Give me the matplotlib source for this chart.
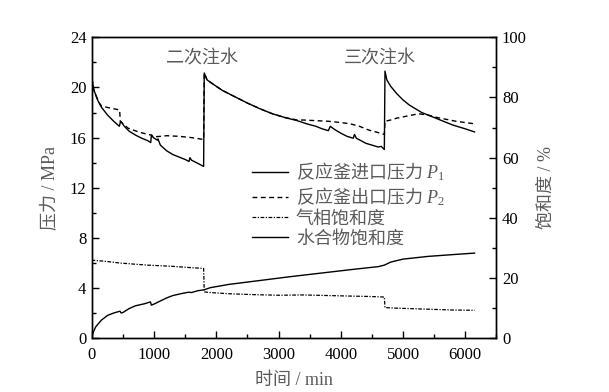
import matplotlib
matplotlib.use("Agg")
import matplotlib.pyplot as plt
from matplotlib.ticker import MultipleLocator

plt.rcParams['font.family'] = ['Liberation Serif', 'Noto Sans CJK SC']
plt.rcParams['mathtext.fontset'] = 'custom'
plt.rcParams['mathtext.rm'] = 'Liberation Serif'
plt.rcParams['mathtext.it'] = 'Liberation Serif:italic'

# ---- data ----
t_p1 = [0, 30, 100, 155, 250, 350, 440, 460, 480, 520, 600, 700, 800, 900, 945, 955, 1000,
        1050, 1060, 1100, 1200, 1300, 1400, 1500, 1560, 1575, 1600, 1700, 1795,
        1805, 1850, 1950, 2100, 2300, 2500, 2700, 2900, 3100, 3300, 3450, 3600, 3700, 3800,
        3830, 3900, 4000, 4100, 4200, 4220, 4250, 4400, 4500, 4600, 4650, 4700,
        4710, 4740, 4800, 4900, 5000, 5100, 5200, 5300, 5400, 5500, 5600, 5700, 5800,
        5900, 6000, 6150]
p1 = [20.7, 19.8, 18.9, 18.4, 17.8, 17.3, 16.9, 17.3, 17.2, 16.9, 16.5, 16.2, 15.95, 15.75, 15.6, 16.2, 15.95,
      15.8, 15.9, 15.4, 14.95, 14.65, 14.45, 14.25, 14.1, 14.4, 14.2, 13.95, 13.7,
      21.15, 20.6, 20.25, 19.75, 19.25, 18.75, 18.3, 17.9, 17.6, 17.35, 17.1, 16.9, 16.7, 16.55,
      16.9, 16.65, 16.35, 16.1, 15.95, 16.25, 15.95, 15.55, 15.4, 15.25, 15.3, 15.05,
      21.3, 20.6, 20.1, 19.5, 19.0, 18.6, 18.3, 18.0, 17.8, 17.6, 17.4, 17.2, 17.0,
      16.85, 16.7, 16.45]

t_p2 = [0, 30, 100, 155, 300, 445, 455, 500, 580, 750, 900, 960, 975, 1100, 1200, 1400, 1600, 1795,
        1805, 1850, 1950, 2100, 2300, 2500, 2700, 2900, 3100, 3300, 3400, 3600, 3800, 4000, 4150,
        4300, 4450, 4600, 4700, 4710, 4800, 4900, 5100, 5250, 5400, 5550, 5700, 5850, 6000, 6150]
p2 = [20.7, 19.8, 18.9, 18.5, 18.35, 18.2, 17.3, 17.1, 16.75, 16.45, 16.25, 16.2, 16.05, 16.1, 16.15, 16.1, 16.0, 15.85,
      21.15, 20.6, 20.25, 19.75, 19.25, 18.75, 18.3, 17.9, 17.6, 17.4, 17.4, 17.35, 17.3, 17.2, 17.1,
      16.9, 16.6, 16.4, 16.25, 17.3, 17.4, 17.55, 17.75, 17.9, 17.8, 17.6, 17.45, 17.3, 17.2, 17.1]

t_gas = [0, 20, 200, 450, 700, 900, 1000, 1300, 1500, 1795, 1805, 1900, 2200, 2600, 3000,
         3400, 3800, 4200, 4450, 4700, 4710, 4900, 5200, 5500, 5800, 6150]
s_gas = [26.3, 25.9, 25.6, 25.0, 24.6, 24.3, 24.2, 23.9, 23.6, 23.2, 15.4, 15.2, 14.8, 14.5, 14.3,
         14.4, 14.2, 14.0, 13.9, 13.7, 10.2, 10.0, 9.8, 9.6, 9.4, 9.3]

t_hyd = [0, 20, 60, 150, 250, 350, 450, 470, 500, 600, 700, 850, 940, 955, 1000, 1100, 1200, 1300,
         1450, 1550, 1600, 1700, 1800, 1900, 2200, 2700, 3200, 3700, 4200, 4600, 4700, 4800, 5000,
         5400, 5800, 6150]
s_hyd = [0.5, 2.0, 3.8, 6.0, 7.6, 8.4, 9.0, 8.4, 8.6, 9.9, 10.8, 11.5, 12.1, 11.0, 11.4, 12.4, 13.4, 14.2,
         14.9, 15.3, 15.2, 15.8, 16.1, 16.8, 17.9, 19.2, 20.5, 21.7, 22.9, 23.8, 24.3, 25.3, 26.3,
         27.2, 27.8, 28.3]

labels = ['反应釜进口压力 $P_1$', '反应釜出口压力 $P_2$', '气相饱和度', '水合物饱和度']
annots = ['二次注水', '三次注水']
annot_t = [1766, 4623]

GRAY = '#5a5a5a'

fig = plt.figure(figsize=(6.09, 3.92), dpi=100)
ax = fig.add_axes([0.151, 0.137, 0.664, 0.768])
ax2 = ax.twinx()

l2, = ax.plot(t_p2, p2, color='black', lw=1.0, dashes=(3.5, 2.5))
l1, = ax.plot(t_p1, p1, color='black', lw=1.0)
l3, = ax2.plot(t_gas, s_gas, color='black', lw=0.9, dashes=(3, 1.2, 1, 1.2))
l4, = ax2.plot(t_hyd, s_hyd, color='black', lw=1.0)

ax.set_xlim(0, 6500)
ax.set_ylim(0, 24)
ax2.set_ylim(0, 100)
ax.xaxis.set_major_locator(MultipleLocator(1000))
ax.xaxis.set_minor_locator(MultipleLocator(500))
ax.yaxis.set_major_locator(MultipleLocator(4))
ax.yaxis.set_minor_locator(MultipleLocator(2))
ax2.yaxis.set_major_locator(MultipleLocator(20))
ax2.yaxis.set_minor_locator(MultipleLocator(10))

for a in (ax, ax2):
    a.tick_params(which='both', direction='in', labelsize=12, colors='black')
    a.tick_params(which='major', length=5, width=1)
    a.tick_params(which='minor', length=3, width=1)
    for s in a.spines.values():
        s.set_linewidth(1.0)
ax.tick_params(axis='x', pad=6)
ax.tick_params(axis='y', pad=4)
ax2.tick_params(axis='y', pad=4)

ax.set_xlabel('时间 / min', fontsize=13, color=GRAY, labelpad=7)
ax.set_ylabel('压力 / MPa', fontsize=13, color=GRAY, labelpad=8)
ax2.set_ylabel('饱和度 / %', fontsize=13, color=GRAY, labelpad=8)

for txt, tt in zip(annots, annot_t):
    ax.text(tt, 22.3, txt, fontsize=13, color=GRAY, ha='center', va='center')

leg = ax.legend([l1, l2, l3, l4], labels, loc='upper left', bbox_to_anchor=(0.395, 0.59),
                frameon=False, prop={'family': 'Noto Sans CJK SC', 'size': 13},
                handlelength=2.0, handletextpad=0.45,
                labelspacing=0.1, borderpad=0, borderaxespad=0)
for tx in leg.get_texts():
    tx.set_color(GRAY)

fig.savefig('out.png', dpi=100)
